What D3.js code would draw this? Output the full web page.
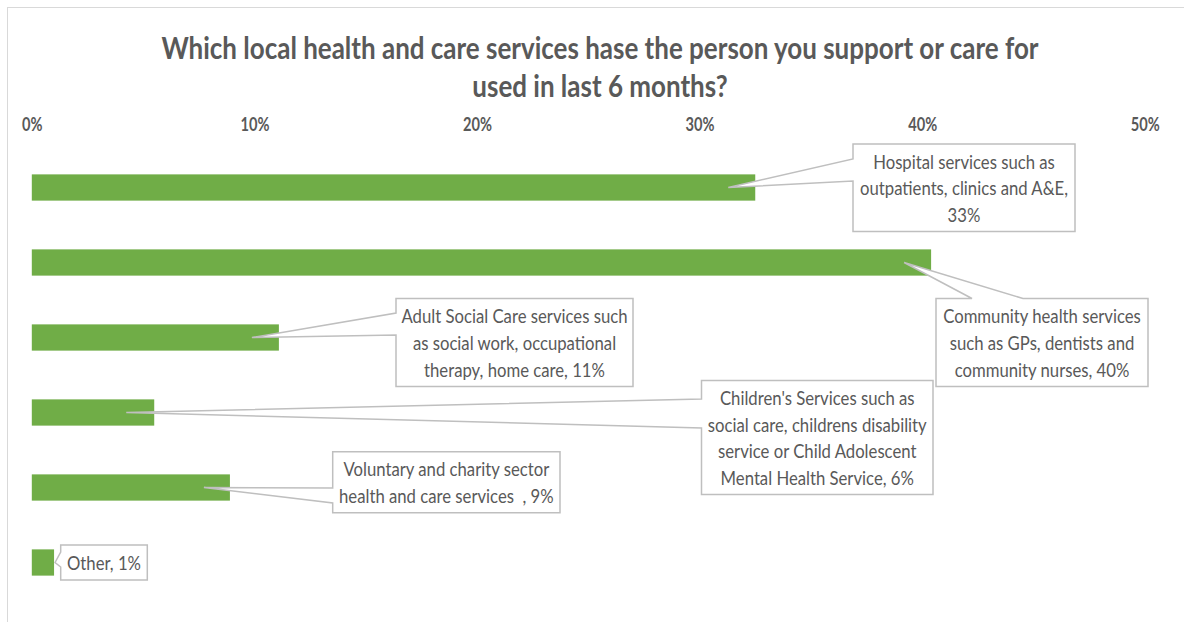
<!DOCTYPE html>
<html><head><meta charset="utf-8">
<script src="https://cdn.jsdelivr.net/npm/d3@7"></script>
<style>body{margin:0;background:#fff;} svg{display:block;}</style>
</head><body>
<svg id="chart" width="1184" height="622"></svg>
<script>
// ---------- data ----------
const titleLines = ["Which local health and care services hase the person you support or care for", "used in last 6 months?"];
const categories = [
  "Hospital services such as outpatients, clinics and A&E",
  "Community health services such as GPs, dentists and community nurses",
  "Adult Social Care services such as social work, occupational therapy, home care",
  "Children's Services such as social care, childrens disability service or Child Adolescent Mental Health Service",
  "Voluntary and charity sector health and care services ",
  "Other"
];
const values = [32.5, 40.4, 11.1, 5.5, 8.9, 1.0];
const labelLines = [
  ["Hospital services such as", "outpatients, clinics and A&E,", "33%"],
  ["Community health services", "such as GPs, dentists and", "community nurses, 40%"],
  ["Adult Social Care services such", "as social work, occupational", "therapy, home care, 11%"],
  ["Children's Services such as", "social care, childrens disability", "service or Child Adolescent", "Mental Health Service, 6%"],
  ["Voluntary and charity sector", "health and care services  , 9%"],
  ["Other, 1%"]
];
const tickValues = [0, 10, 20, 30, 40, 50];
const tickLabels = ["0%", "10%", "20%", "30%", "40%", "50%"];

// ---------- layout (callout boxes) ----------
const calloutLayout = [
  {box: [853, 144, 1075, 231.5], side: "left", base: [159, 181], tipDx: -27},
  {box: [936, 298.5, 1148, 386.5], side: "top", base: [972, 1023], tipDx: -27},
  {box: [396, 298.5, 633, 386.5], side: "left", base: [313, 335], tipDx: -27},
  {box: [701.5, 380.5, 933, 494.5], side: "left", base: [399, 428], tipDx: -28},
  {box: [332.7, 451.7, 560, 512.7], side: "left", base: [488, 503], tipDx: -26},
  {box: [60.7, 545, 147.3, 580], side: "left", base: [552, 567], tipDx: 1}
];

const svg = d3.select("#chart");
const textColor = "#595959";

// frame
svg.append("rect").attr("x", 7.5).attr("y", 7.5).attr("width", 1200).attr("height", 700)
  .attr("fill", "#fff").attr("stroke", "#d9d9d9").attr("stroke-width", 1);

const x = d3.scaleLinear().domain([0, 50]).range([31.8, 1144.8]);
const y = d3.scaleBand().domain(categories).range([150, 600]).paddingInner(0.65).paddingOuter(0.325);

function condense(sel, k) {
  sel.each(function() {
    const w = this.getComputedTextLength();
    d3.select(this).attr("textLength", w * k).attr("lengthAdjust", "spacingAndGlyphs");
  });
}
function measure(str, font, size, weight) {
  const t = svg.append("text").attr("font-family", font).attr("font-size", size)
    .attr("font-weight", weight).text(str);
  const w = t.node().getComputedTextLength();
  t.remove();
  return w;
}

// title
const FONT = "Lato, 'Open Sans', sans-serif";
const kTitle = 877 / measure(titleLines[0], FONT, 30, 700);
const title = svg.append("g");
title.selectAll("text").data(titleLines).join("text")
  .attr("x", 600).attr("y", (d, i) => 59 + i * 38)
  .attr("text-anchor", "middle").attr("font-family", FONT).attr("font-size", 30)
  .attr("font-weight", 700).attr("fill", textColor).text(d => d)
  .call(condense, kTitle);

// axis (top)
const kAxis = 29 / measure("10%", FONT, 18, 700);
const axis = svg.append("g").attr("transform", "translate(0,131)")
  .call(d3.axisTop(x).tickValues(tickValues).tickFormat((d, i) => tickLabels[i]).tickSize(0).tickPadding(0));
axis.select(".domain").remove();
axis.selectAll("text").attr("font-family", FONT).attr("font-size", 18).attr("font-weight", 700)
  .attr("fill", textColor).attr("dy", 0)
  .call(condense, kAxis);

// bars
svg.append("g").selectAll("rect").data(values).join("rect")
  .attr("x", x(0)).attr("y", (d, i) => y(categories[i]))
  .attr("width", d => x(d) - x(0)).attr("height", y.bandwidth())
  .attr("fill", "#70ad47");

// callouts
const kLab = 208 / measure("outpatients, clinics and A&E,", FONT, 19.5, 400);
const lh = 26.7;
const callouts = svg.append("g").selectAll("g").data(values).join("g");
callouts.append("path")
  .attr("d", (d, i) => {
    const L = calloutLayout[i];
    const [x0, y0, x1, y1] = L.box;
    const tx = x(d) + L.tipDx, ty = y(categories[i]) + y.bandwidth() / 2;
    const p = d3.path();
    if (L.side === "left") {
      p.moveTo(x0, y0); p.lineTo(x1, y0); p.lineTo(x1, y1); p.lineTo(x0, y1);
      p.lineTo(x0, L.base[1]); p.lineTo(tx, ty); p.lineTo(x0, L.base[0]); p.closePath();
    } else {
      p.moveTo(x0, y0); p.lineTo(L.base[0], y0); p.lineTo(tx, ty); p.lineTo(L.base[1], y0);
      p.lineTo(x1, y0); p.lineTo(x1, y1); p.lineTo(x0, y1); p.closePath();
    }
    return p.toString();
  })
  .attr("fill", "#fff").attr("stroke", "#bfbfbf").attr("stroke-width", 1.5).attr("stroke-linejoin", "miter");
callouts.each(function(d, i) {
  const L = calloutLayout[i];
  const [x0, y0, x1, y1] = L.box;
  const cx = (x0 + x1) / 2, cy = (y0 + y1) / 2;
  const lines = labelLines[i];
  const n = lines.length;
  d3.select(this).selectAll("text").data(lines).join("text")
    .attr("x", cx).attr("y", (s, j) => cy + (j - (n - 1) / 2) * lh + 7.5)
    .attr("text-anchor", "middle").attr("font-family", FONT).attr("font-size", 19.5)
    .attr("fill", textColor).style("white-space", "pre").text(s => s)
    .call(condense, kLab);
});
</script>
</body></html>
